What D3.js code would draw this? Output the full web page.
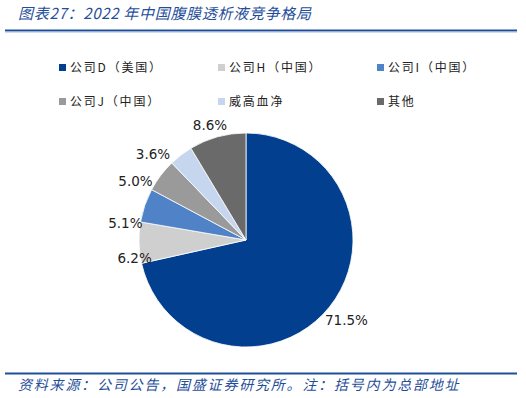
<!doctype html>
<html lang="zh">
<head>
<meta charset="utf-8">
<title>2022 年中国腹膜透析液竞争格局</title>
<script src="https://cdn.jsdelivr.net/npm/d3@7"></script>
<style>
  body { margin: 0; background: #fff; }
  svg { display: block; }
  .title, .source { font-family: "Noto Sans CJK SC", sans-serif; font-style: italic; fill: #1f4e9a; }
  .legend text { font-family: "Noto Sans CJK SC", sans-serif; font-size: 12px; fill: #222; letter-spacing: 1.8px; }
  .lbl { font-family: "DejaVu Sans", sans-serif; font-size: 13.5px; fill: #222; }
</style>
</head>
<body>
<div id="chart"></div>
<script>
// data
var companies = ["公司D（美国）", "公司H（中国）", "公司I（中国）", "公司J（中国）", "威高血净", "其他"];
var shares = [71.5, 6.2, 5.1, 5.0, 3.6, 8.6];
var colors = ["#023f8f", "#cfcfcf", "#4f82c6", "#9a9a9a", "#c6d6ee", "#6a6a6a"];

var width = 526, height = 398;
var cx = 246, cy = 240, radius = 107;

// label tweaks: angle shift (degrees) and gap to the rim, the small slices' labels sit lower in the original
var labelNudge = [0, -8, -11, -9, -10, -2];
var labelGap = [4, -12, -3, 0, 2, 1];

var svg = d3.select("#chart").append("svg")
    .attr("width", width)
    .attr("height", height);

// header
svg.append("text")
    .attr("class", "title")
    .attr("x", 18)
    .attr("y", 19)
    .style("font-size", "15px")
    .style("letter-spacing", "0.7px")
    .text("图表27：2022 年中国腹膜透析液竞争格局");

svg.append("rect").attr("x", 5).attr("y", 29.5).attr("width", 512).attr("height", 2).attr("fill", "#1f4e9a");
svg.append("rect").attr("x", 5).attr("y", 31.5).attr("width", 512).attr("height", 1).attr("fill", "#9fb6dc");

// legend
var legend = svg.append("g").attr("class", "legend");
var cols = [59, 218, 377], rows = [64, 98];
var item = legend.selectAll("g")
    .data(companies)
  .enter().append("g")
    .attr("transform", function(d, i) { return "translate(" + cols[i % 3] + "," + rows[Math.floor(i / 3)] + ")"; });
item.append("rect")
    .attr("width", 7).attr("height", 7)
    .attr("fill", function(d, i) { return colors[i]; });
item.append("text")
    .attr("x", 11)
    .attr("y", 8)
    .text(function(d) { return d; });

// pie
var pie = d3.pie().sort(null).value(function(d) { return d; });
var arc = d3.arc().innerRadius(0).outerRadius(radius);
var arcs = pie(shares);

var g = svg.append("g").attr("transform", "translate(" + cx + "," + cy + ")");

g.selectAll("path")
    .data(arcs)
  .enter().append("path")
    .attr("d", arc)
    .attr("fill", function(d, i) { return colors[i]; })
    .attr("stroke", "#fff")
    .attr("stroke-width", 0.8);

// data labels, just outside the rim
var lw = 34, lh = 14;
g.selectAll("text.lbl")
    .data(arcs)
  .enter().append("text")
    .attr("class", "lbl")
    .attr("text-anchor", "middle")
    .attr("dy", "0.35em")
    .attr("transform", function(d, i) {
      var a = (d.startAngle + d.endAngle) / 2 + labelNudge[i] * Math.PI / 180;
      var r = radius + labelGap[i] + Math.abs(Math.sin(a)) * lw / 2 + Math.abs(Math.cos(a)) * lh / 2;
      return "translate(" + (r * Math.sin(a)) + "," + (-r * Math.cos(a)) + ")";
    })
    .text(function(d) { return d3.format(".1f")(d.data) + "%"; });

// footer
svg.append("rect").attr("x", 5).attr("y", 372.5).attr("width", 512).attr("height", 2).attr("fill", "#1f4e9a");
svg.append("text")
    .attr("class", "source")
    .attr("x", 18)
    .attr("y", 390)
    .style("font-size", "14px")
    .style("letter-spacing", "1.8px")
    .text("资料来源：公司公告，国盛证券研究所。注：括号内为总部地址");
</script>
</body>
</html>
